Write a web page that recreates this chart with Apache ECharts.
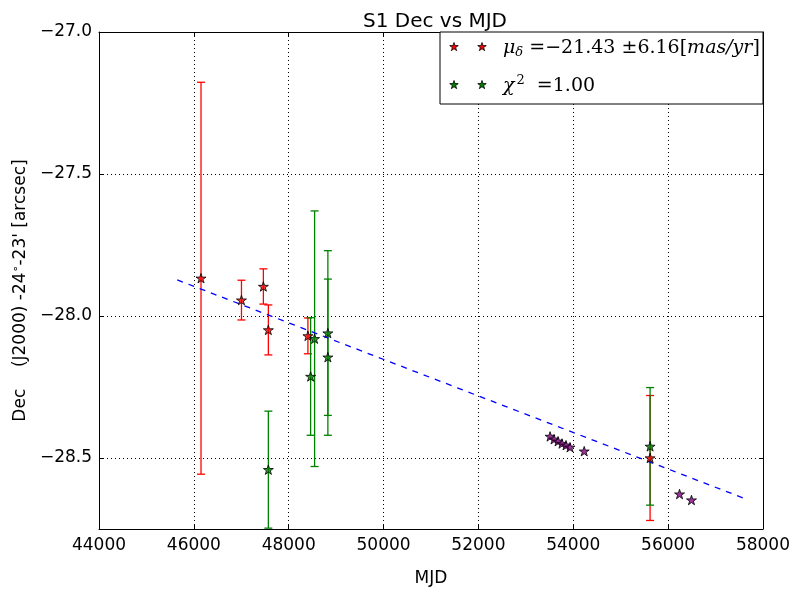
<!DOCTYPE html>
<html><head><meta charset="utf-8">
<script src="https://cdn.jsdelivr.net/npm/echarts@6/dist/echarts.min.js"></script>
<style>html,body{margin:0;padding:0;background:#fff}#c{width:793px;height:592px}</style>
</head><body><div id="c"></div>
<script>
// ---- data ----
const xTicks = [44000, 46000, 48000, 50000, 52000, 54000, 56000, 58000];
const yTicks = [-28.5, -28.0, -27.5, -27.0];
const xRange = [44000, 58000];
const yRange = [-28.75, -27.0];

const redX   = [46151, 47004, 47466, 47571, 48405, 55620];
const redY   = [-27.867, -27.944, -27.896, -28.049, -28.070, -28.500];
const redErr = [0.690, 0.070, 0.062, 0.088, 0.063, 0.220];

const greenX   = [47571, 48462, 48546, 48826, 48826, 55620];
const greenY   = [-28.541, -28.213, -28.080, -28.060, -28.145, -28.459];
const greenErr = [0.206, 0.207, 0.450, 0.290, 0.275, 0.207];

const purpleX = [53511, 53595, 53679, 53763, 53847, 53931, 54231, 56241, 56493];
const purpleY = [-28.424, -28.434, -28.441, -28.449, -28.455, -28.462, -28.476, -28.627, -28.648];

const fitX = [45650, 57650];
const fitY = [-27.873, -28.645];

// ---- chart ----
const STAR = 'path://M50,0 L61.2,34.5 L97.6,34.5 L68.2,55.9 L79.4,90.5 L50,69.1 L20.6,90.5 L31.8,55.9 L2.4,34.5 L38.8,34.5 Z';
const FONT = 'DejaVu Sans';
const fmtMinus = v => (v < 0 ? '\u2212' : '') + Math.abs(v).toFixed(1);

function pairs(xs, ys) { return xs.map((x, i) => [x, ys[i]]); }
function errData(xs, ys, es) { return xs.map((x, i) => [x, ys[i] - es[i], ys[i] + es[i]]); }
function errSeries(xs, ys, es, color) {
  return {
    type: 'custom', clip: true, z: 2,
    data: errData(xs, ys, es),
    renderItem: (params, api) => {
      const x = api.value(0);
      const a = api.coord([x, api.value(1)]);
      const b = api.coord([x, api.value(2)]);
      const h = 4;
      const st = { stroke: color, lineWidth: 1.3 };
      return { type: 'group', children: [
        { type: 'line', shape: { x1: a[0], y1: a[1], x2: b[0], y2: b[1] }, style: st },
        { type: 'line', shape: { x1: a[0] - h, y1: a[1], x2: a[0] + h, y2: a[1] }, style: st },
        { type: 'line', shape: { x1: b[0] - h, y1: b[1], x2: b[0] + h, y2: b[1] }, style: st }
      ]};
    }
  };
}
function starSeries(xs, ys, color) {
  return {
    type: 'scatter', z: 5, symbol: STAR, symbolSize: 10, symbolKeepAspect: true,
    data: pairs(xs, ys),
    itemStyle: { color: color, borderColor: '#000', borderWidth: 1 },
    emphasis: { disabled: true }
  };
}
function starPoly(cx, cy, r) {
  const pts = [];
  for (let k = 0; k < 10; k++) {
    const ang = -Math.PI / 2 + k * Math.PI / 5;
    const rr = k % 2 === 0 ? r : r * 0.382;
    pts.push([cx + rr * Math.cos(ang), cy + rr * Math.sin(ang)]);
  }
  return pts;
}

const axisLineStyle = { show: true, lineStyle: { color: '#000', width: 1 } };
const gridLine = { show: true, lineStyle: { color: '#000', type: [1, 3], width: 1 } };

const chart = echarts.init(document.getElementById('c'), null, { renderer: 'canvas' });
const legendStars = [];
[[454, 47, '#ff0000'], [482, 47, '#ff0000'], [454, 85, '#008000'], [482, 85, '#008000']].forEach(s => {
  legendStars.push({ type: 'polygon', z: 101, shape: { points: starPoly(s[0], s[1], 4.5) },
    style: { fill: s[2], stroke: '#000', lineWidth: 0.8 } });
});

chart.setOption({
  animation: false,
  backgroundColor: '#fff',
  title: { text: 'S1 Dec vs MJD', left: 430, top: 7, textAlign: 'center',
    textStyle: { fontFamily: FONT, fontSize: 20, fontWeight: 'normal', color: '#000' } },
  grid: { left: 99, right: 30, top: 32, bottom: 59 },
  xAxis: [{
    type: 'value', min: xRange[0], max: xRange[1], interval: 2000,
    name: 'MJD', nameLocation: 'middle', nameGap: 41,
    nameTextStyle: { fontFamily: FONT, fontSize: 17, color: '#000' },
    axisLine: axisLineStyle,
    axisTick: { show: true, inside: true, length: 4, lineStyle: { color: '#000' } },
    axisLabel: { fontFamily: FONT, fontSize: 17, color: '#000', margin: 8, showMinLabel: true, showMaxLabel: true,
      formatter: v => String(v) },
    splitLine: gridLine
  }, {
    type: 'value', position: 'top', min: xRange[0], max: xRange[1], interval: 2000,
    axisLine: axisLineStyle,
    axisTick: { show: true, inside: true, length: 4, lineStyle: { color: '#000' } },
    axisLabel: { show: false }, splitLine: { show: false }
  }],
  yAxis: [{
    type: 'value', min: yRange[0], max: yRange[1],
    name: 'Dec    (J2000) -24{deg|\u2218}-23\' [arcsec]',
    nameLocation: 'middle', nameGap: 68, nameRotate: 90,
    nameTextStyle: { fontFamily: FONT, fontSize: 17, color: '#000', padding: [0, 20, 0, 0],
      rich: { deg: { fontFamily: FONT, fontSize: 11, color: '#000', verticalAlign: 'top', padding: [0, 0, 8, 0] } } },
    axisLine: axisLineStyle,
    axisTick: { show: true, inside: true, length: 4, customValues: yTicks, lineStyle: { color: '#000' } },
    axisLabel: { customValues: yTicks, fontFamily: FONT, fontSize: 17, color: '#000', margin: 7, formatter: fmtMinus },
    splitLine: gridLine
  }, {
    type: 'value', position: 'right', min: yRange[0], max: yRange[1],
    axisLine: axisLineStyle,
    axisTick: { show: true, inside: true, length: 4, customValues: yTicks, lineStyle: { color: '#000' } },
    axisLabel: { show: false }, splitLine: { show: false }
  }],
  series: [
    errSeries(redX, redY, redErr, '#ff0000'),
    errSeries(greenX, greenY, greenErr, '#008000'),
    { type: 'line', data: pairs(fitX, fitY), symbol: 'none', z: 3,
      lineStyle: { color: '#0000ff', width: 1.3, type: [6, 6] } },
    starSeries(redX, redY, '#ff0000'),
    starSeries(greenX, greenY, '#008000'),
    starSeries(purpleX, purpleY, '#800080')
  ],
  graphic: [
    { type: 'rect', z: 100, shape: { x: 440, y: 32, width: 323, height: 72 },
      style: { fill: '#fff', stroke: '#000', lineWidth: 1 } },
    ...legendStars,
    { type: 'text', z: 101, x: 503, y: 48,
      style: {
        text: '{i|\u03bc}{s|\u03b4}{r| =\u221221.43 \u00b16.16[}{i|mas/yr}{r|]}',
        verticalAlign: 'middle',
        rich: {
          i: { fontFamily: 'DejaVu Serif', fontStyle: 'italic', fontSize: 19, fill: '#000' },
          s: { fontFamily: 'DejaVu Serif', fontStyle: 'italic', fontSize: 13, fill: '#000', padding: [10, 0, 0, 0] },
          r: { fontFamily: 'DejaVu Serif', fontSize: 19, fill: '#000' }
        }
      } },
    { type: 'text', z: 101, x: 503, y: 86,
      style: {
        text: '{i|\u03c7}{p|2}{r|  =1.00}',
        verticalAlign: 'middle',
        rich: {
          i: { fontFamily: 'DejaVu Serif', fontStyle: 'italic', fontSize: 19, fill: '#000' },
          p: { fontFamily: 'DejaVu Serif', fontSize: 13, fill: '#000', padding: [0, 0, 10, 2] },
          r: { fontFamily: 'DejaVu Serif', fontSize: 19, fill: '#000' }
        }
      } }
  ]
});
</script>
</body></html>
